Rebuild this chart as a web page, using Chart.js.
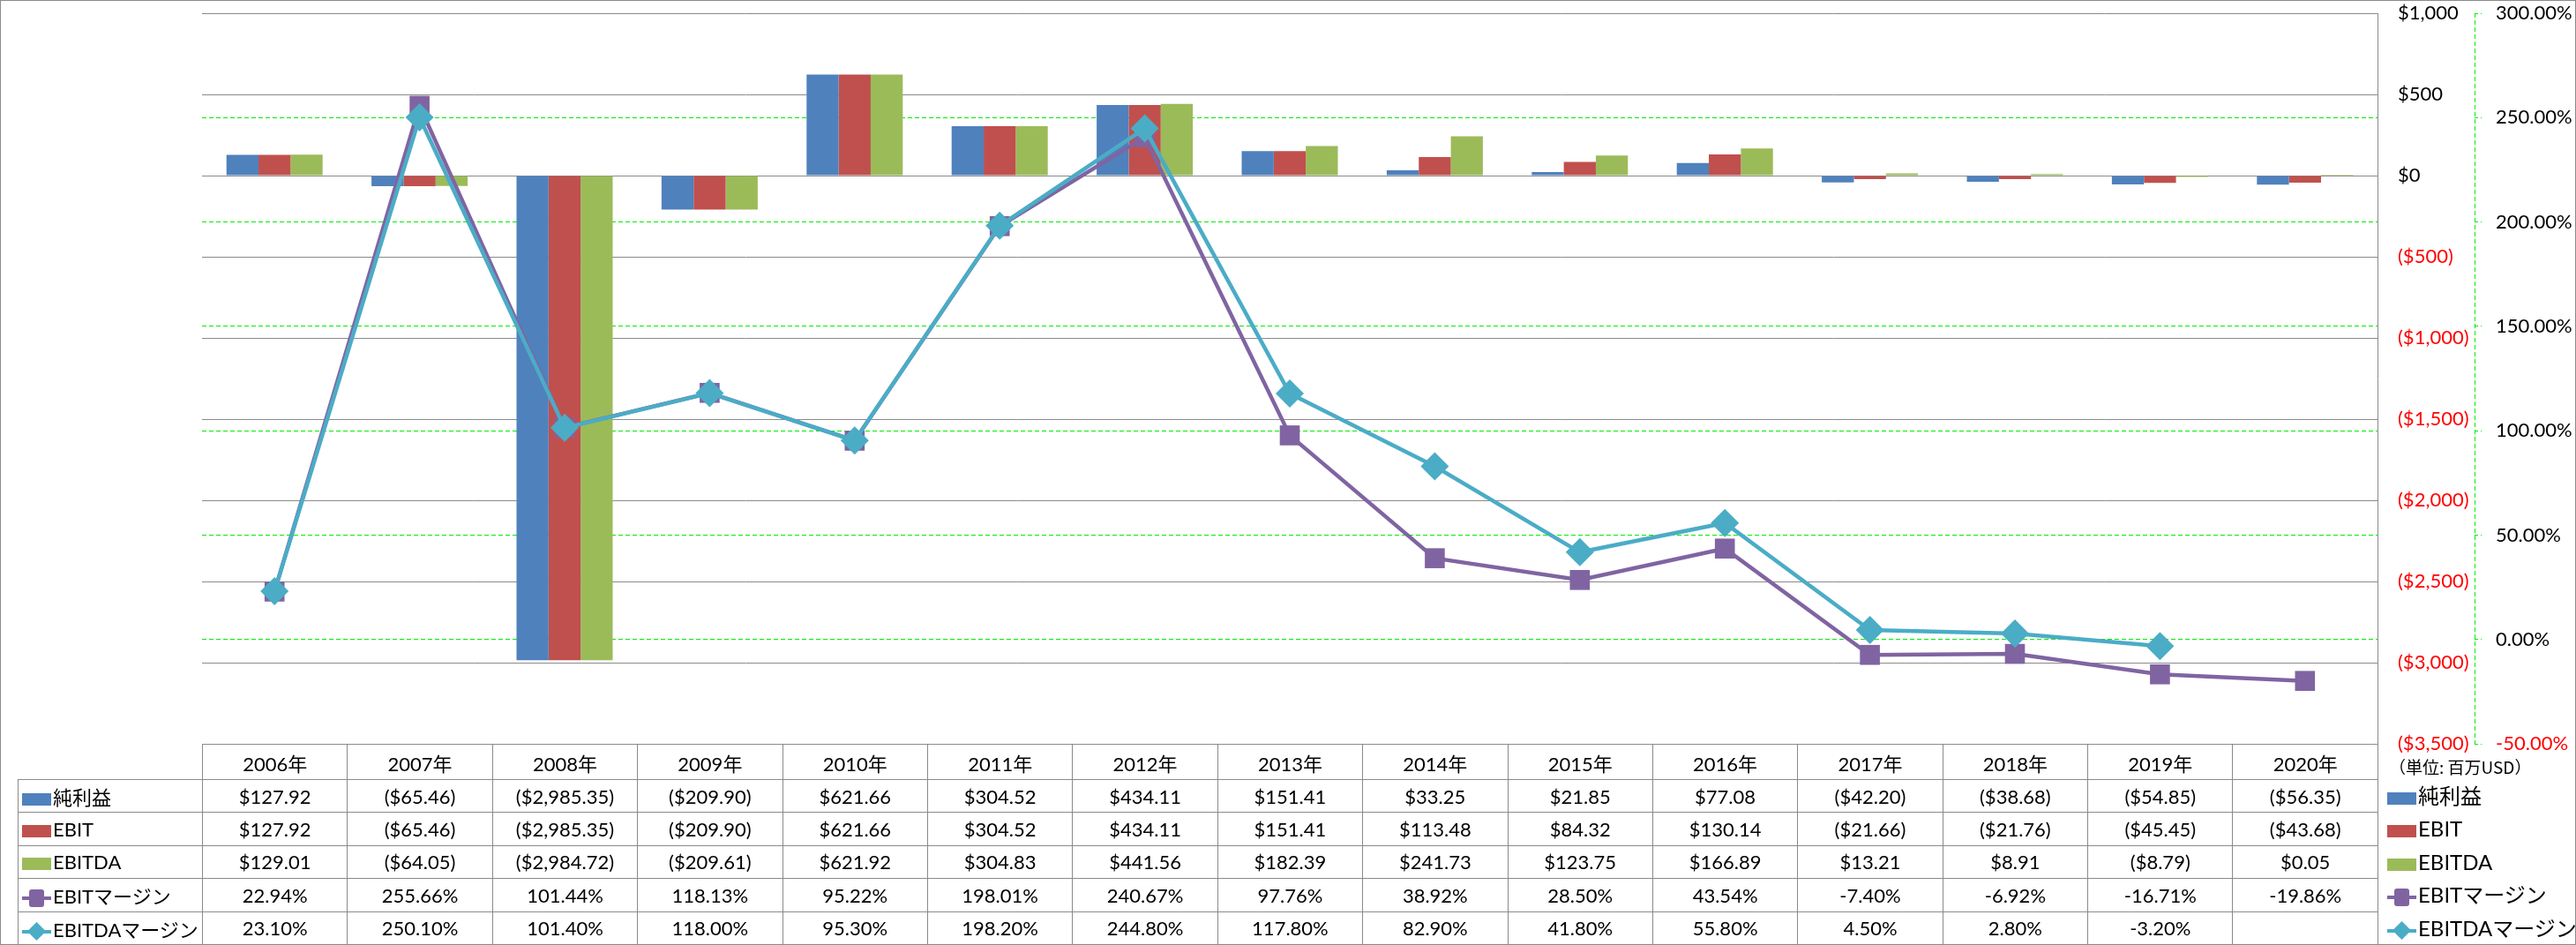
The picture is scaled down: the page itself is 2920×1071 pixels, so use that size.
<!DOCTYPE html>
<html lang="ja">
<head>
<meta charset="UTF-8">
<title>純利益・EBIT・EBITDA 推移</title>
<script src="https://cdn.jsdelivr.net/npm/chart.js"></script>
<style>
    html, body {
        margin: 0;
        padding: 0;
        background: #fff;
        overflow: hidden;
    }
    #wrap {
        position: relative;
        width: 2920px;
        height: 1071px;
        font-family: "Lato", "Noto Sans CJK JP", sans-serif;
        font-size: 22px;
        color: #000;
    }
    #chart {
        position: absolute;
        left: 0;
        top: 0;
    }
    #frame {
        position: absolute;
        left: 0;
        top: 0;
        width: 2918px;
        height: 1069px;
        border: 1px solid #8a8a8a;
        pointer-events: none;
    }
    #dataTable {
        position: absolute;
        top: 843px;
        border-collapse: collapse;
        table-layout: fixed;
    }
    #dataTable td {
        border: 1px solid #8a8a8a;
        text-align: center;
        padding: 0;
        white-space: nowrap;
        overflow: hidden;
    }
    #dataTable td.name {
        text-align: left;
    }
    #dataTable td.blank {
        border-top: none;
        border-left: none;
    }
    .sw {
        display: inline-block;
        position: relative;
        width: 33px;
        height: 14px;
        vertical-align: -1px;
        margin: 0 2px 0 4px;
    }
    .sw .ln {
        position: absolute;
        left: 0;
        right: 0;
        top: 5px;
        height: 4px;
    }
    .sw .mk {
        position: absolute;
        left: 8px;
        top: -3px;
        width: 17px;
        height: 20px;
        border-radius: 3px;
    }
    .sw .dm {
        position: absolute;
        left: 9px;
        top: -1px;
        width: 15px;
        height: 15px;
        transform: rotate(45deg);
    }
    #legend {
        position: absolute;
        left: 2706px;
        top: 855px;
    }
    #legend .unit {
        font-family: "Noto Sans CJK JP", sans-serif;
        font-size: 19px;
        height: 28px;
        line-height: 28px;
        margin-left: 2px;
        white-space: nowrap;
    }
    #legend .item {
        font-size: 24px;
        height: 37.4px;
        line-height: 37.4px;
        white-space: nowrap;
    }
    #legend .item .sw {
        margin-left: 0;
    }
</style>
</head>
<body>
<div id="wrap">
    <canvas id="chart" width="2920" height="1071"></canvas>
    <table id="dataTable"></table>
    <div id="legend"></div>
    <div id="frame"></div>
</div>

<script>
    // categories
    const years = ['2006年', '2007年', '2008年', '2009年', '2010年', '2011年', '2012年', '2013年',
                   '2014年', '2015年', '2016年', '2017年', '2018年', '2019年', '2020年'];

    // bars, million USD
    const netIncome = [127.92, -65.46, -2985.35, -209.90, 621.66, 304.52, 434.11, 151.41,
                       33.25, 21.85, 77.08, -42.20, -38.68, -54.85, -56.35];
    const ebit = [127.92, -65.46, -2985.35, -209.90, 621.66, 304.52, 434.11, 151.41,
                  113.48, 84.32, 130.14, -21.66, -21.76, -45.45, -43.68];
    const ebitda = [129.01, -64.05, -2984.72, -209.61, 621.92, 304.83, 441.56, 182.39,
                    241.73, 123.75, 166.89, 13.21, 8.91, -8.79, 0.05];

    // lines, percent
    const ebitMargin = [22.94, 255.66, 101.44, 118.13, 95.22, 198.01, 240.67, 97.76,
                        38.92, 28.50, 43.54, -7.40, -6.92, -16.71, -19.86];
    const ebitdaMargin = [23.10, 250.10, 101.40, 118.00, 95.30, 198.20, 244.80, 117.80,
                          82.90, 41.80, 55.80, 4.50, 2.80, -3.20, null];

    // axis ranges
    const usdMin = -3500, usdMax = 1000, usdStep = 500;
    const pctMin = -50, pctMax = 300, pctStep = 50;

    const BLUE = '#4F81BD', RED = '#C0504D', GREEN = '#9BBB59', PURPLE = '#8064A2', CYAN = '#4BACC6';
    const GRID = '#8a8a8a', DASH_GREEN = '#00ee00';
    const FONT = { family: 'Lato, "Noto Sans CJK JP", sans-serif', size: 22 };

    function fmtUsd(v, dec) {
        const s = '$' + Math.abs(v).toLocaleString('en-US', { minimumFractionDigits: dec, maximumFractionDigits: dec });
        return v < 0 ? '(' + s + ')' : s;
    }
    function fmtPct(v) {
        return v == null ? '' : v.toFixed(2) + '%';
    }

    const series = [
        { label: '純利益', data: netIncome, color: BLUE, kind: 'bar' },
        { label: 'EBIT', data: ebit, color: RED, kind: 'bar' },
        { label: 'EBITDA', data: ebitda, color: GREEN, kind: 'bar' },
        { label: 'EBITマージン', data: ebitMargin, color: PURPLE, kind: 'square' },
        { label: 'EBITDAマージン', data: ebitdaMargin, color: CYAN, kind: 'diamond' }
    ];

    // dashed vertical line for the secondary axis
    const secondaryAxisLine = {
        id: 'secondaryAxisLine',
        afterDraw(chart) {
            const s = chart.scales.y1;
            const c = chart.ctx;
            c.save();
            c.strokeStyle = DASH_GREEN;
            c.lineWidth = 1;
            c.setLineDash([5, 3]);
            c.beginPath();
            c.moveTo(s.left + 0.5, s.top);
            c.lineTo(s.left + 0.5, s.bottom);
            c.stroke();
            c.restore();
        }
    };

    // fixed axis widths, no extra label padding above / below the plot
    function fitAxis(w) {
        return scale => {
            scale.width = w;
            scale.paddingTop = 0;
            scale.paddingBottom = 0;
        };
    }

    const ctx = document.getElementById('chart').getContext('2d');
    const chart = new Chart(ctx, {
        type: 'bar',
        data: {
            labels: years,
            datasets: [
                { label: '純利益', data: netIncome, backgroundColor: BLUE, yAxisID: 'y', order: 3 },
                { label: 'EBIT', data: ebit, backgroundColor: RED, yAxisID: 'y', order: 3 },
                { label: 'EBITDA', data: ebitda, backgroundColor: GREEN, yAxisID: 'y', order: 3 },
                {
                    type: 'line', label: 'EBITマージン', data: ebitMargin, yAxisID: 'y1', order: 1,
                    borderColor: PURPLE, backgroundColor: PURPLE, borderWidth: 4.5,
                    pointStyle: 'rect', pointRadius: 16, pointBorderWidth: 0, tension: 0
                },
                {
                    type: 'line', label: 'EBITDAマージン', data: ebitdaMargin, yAxisID: 'y1', order: 0,
                    borderColor: CYAN, backgroundColor: CYAN, borderWidth: 4.5,
                    pointStyle: 'rectRot', pointRadius: 16, pointBorderWidth: 0, tension: 0
                }
            ]
        },
        options: {
            responsive: false,
            animation: false,
            events: [],
            layout: { autoPadding: false, padding: { left: 229, top: 15, right: 0, bottom: 228 } },
            datasets: {
                bar: { categoryPercentage: 0.663, barPercentage: 1.0, borderWidth: 0 }
            },
            plugins: {
                legend: { display: false },
                tooltip: { enabled: false }
            },
            scales: {
                x: {
                    display: false,
                    offset: true
                },
                y: {
                    position: 'right',
                    min: usdMin,
                    max: usdMax,
                    afterFit: fitAxis(110),
                    ticks: {
                        stepSize: usdStep,
                        padding: 23,
                        font: FONT,
                        color: c => c.tick.value < 0 ? '#ff0000' : '#000000',
                        callback: v => fmtUsd(v, 0)
                    },
                    grid: { color: GRID, lineWidth: 1, drawTicks: false },
                    border: { display: true, color: GRID, width: 1 }
                },
                y1: {
                    position: 'right',
                    min: pctMin,
                    max: pctMax,
                    afterFit: fitAxis(115),
                    ticks: {
                        stepSize: pctStep,
                        padding: 16,
                        font: FONT,
                        color: c => c.tick.value < 0 ? '#ff0000' : '#000000',
                        callback: v => v.toFixed(2) + '%'
                    },
                    grid: {
                        color: c => (c.tick && (c.tick.value === pctMin || c.tick.value === pctMax)) ? 'rgba(0,0,0,0)' : DASH_GREEN,
                        lineWidth: 1, drawTicks: true, tickLength: 8,
                        tickColor: DASH_GREEN, tickBorderDash: [4, 3]
                    },
                    border: { display: false, dash: [5, 3] }
                }
            }
        },
        plugins: [secondaryAxisLine]
    });

    // legend swatch markup
    function swatch(s) {
        if (s.kind === 'bar') {
            return '<span class="sw" style="background:' + s.color + '"></span>';
        }
        const line = '<span class="ln" style="background:' + s.color + '"></span>';
        const mark = s.kind === 'square'
            ? '<span class="mk" style="background:' + s.color + '"></span>'
            : '<span class="dm" style="background:' + s.color + '"></span>';
        return '<span class="sw">' + line + mark + '</span>';
    }

    // data table under the plot, columns taken from the chart's x scale
    const area = chart.chartArea;
    const colW = (area.right - area.left) / years.length;
    const table = document.getElementById('dataTable');
    table.style.left = '20px';
    table.style.width = (area.right - 20 + 1) + 'px';

    let html = '<colgroup><col style="width:' + (area.left - 20) + 'px">';
    years.forEach(() => { html += '<col style="width:' + colW + 'px">'; });
    html += '</colgroup>';
    html += '<tr style="height:40px"><td class="blank"></td>';
    years.forEach(y => { html += '<td>' + y + '</td>'; });
    html += '</tr>';
    series.forEach(s => {
        html += '<tr style="height:37.4px"><td class="name">' + swatch(s) + s.label + '</td>';
        s.data.forEach(v => {
            html += '<td>' + (s.kind === 'bar' ? fmtUsd(v, 2) : fmtPct(v)) + '</td>';
        });
        html += '</tr>';
    });
    table.innerHTML = html;

    // legend at the lower right
    const legend = document.getElementById('legend');
    let lg = '<div class="unit">（単位: 百万USD）</div>';
    series.forEach(s => {
        lg += '<div class="item">' + swatch(s) + s.label + '</div>';
    });
    legend.innerHTML = lg;
</script>
</body>
</html>
